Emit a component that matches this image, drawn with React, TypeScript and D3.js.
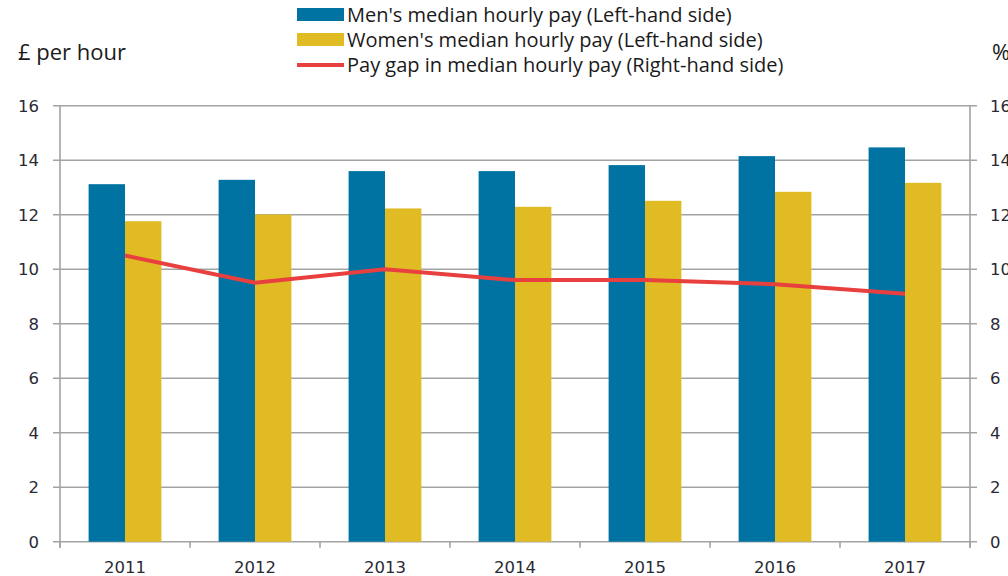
import { useRef, useEffect } from 'react';
import * as d3 from 'd3';

const years = ['2011', '2012', '2013', '2014', '2015', '2016', '2017'];
const menPay = [13.12, 13.28, 13.6, 13.6, 13.82, 14.15, 14.47];
const womenPay = [11.76, 12.01, 12.23, 12.29, 12.51, 12.84, 13.17];
const payGap = [10.5, 9.5, 10.0, 9.6, 9.6, 9.45, 9.1];
const yTicks = [0, 2, 4, 6, 8, 10, 12, 14, 16];

const legendItems = [
    { label: "Men's median hourly pay (Left-hand side)", color: '#0173a2', kind: 'box' },
    { label: "Women's median hourly pay (Left-hand side)", color: '#e1bb24', kind: 'box' },
    { label: 'Pay gap in median hourly pay (Right-hand side)', color: '#e8403f', kind: 'line' },
];

export default function App() {
    const svgRef = useRef<SVGSVGElement>(null);

    useEffect(() => {
        if (!svgRef.current) return;
        const width = 1008;
        const height = 576;
        const left = 60, right = 970, top = 105.7, bottom = 541.7;
        const tickFont = 'DejaVu Sans';
        const legendFont = 'Open Sans';

        const svg = d3.select(svgRef.current);
        svg.selectAll('*').remove();
        svg.attr('width', width).attr('height', height);

        const x = d3.scaleBand().domain(years).range([left, right]).padding(0);
        const xInner = d3.scaleBand()
            .domain(['men', 'women'])
            .range([x.bandwidth() * 0.22, x.bandwidth() * 0.78])
            .padding(0);
        const y = d3.scaleLinear().domain([0, 16]).range([bottom, top]);
        const y2 = d3.scaleLinear().domain([0, 16]).range([bottom, top]);

        // Grid lines
        svg.append('g')
            .selectAll('line')
            .data(yTicks)
            .enter()
            .append('line')
            .attr('x1', left - 7)
            .attr('x2', right + 7)
            .attr('y1', d => y(d))
            .attr('y2', d => y(d))
            .attr('stroke', '#a3a3a3')
            .attr('stroke-width', 1.6);

        // Axis lines
        svg.append('line').attr('x1', left).attr('x2', left).attr('y1', top).attr('y2', bottom + 6)
            .attr('stroke', '#a3a3a3').attr('stroke-width', 1.6);
        svg.append('line').attr('x1', right).attr('x2', right).attr('y1', top).attr('y2', bottom + 6)
            .attr('stroke', '#a3a3a3').attr('stroke-width', 1.6);

        // X ticks
        const xTickPos = years.map(yr => x(yr) || 0).concat([right]);
        svg.append('g')
            .selectAll('line')
            .data(xTickPos)
            .enter()
            .append('line')
            .attr('x1', d => d)
            .attr('x2', d => d)
            .attr('y1', bottom)
            .attr('y2', bottom + 6)
            .attr('stroke', '#a3a3a3')
            .attr('stroke-width', 1.6);

        // Bars
        const groups = svg.append('g')
            .selectAll('g')
            .data(years)
            .enter()
            .append('g')
            .attr('transform', d => `translate(${x(d)},0)`);

        groups.append('rect')
            .attr('x', xInner('men') || 0)
            .attr('width', xInner.bandwidth())
            .attr('y', (_d, i) => y(menPay[i]))
            .attr('height', (_d, i) => bottom - y(menPay[i]))
            .attr('fill', '#0173a2');

        groups.append('rect')
            .attr('x', xInner('women') || 0)
            .attr('width', xInner.bandwidth())
            .attr('y', (_d, i) => y(womenPay[i]))
            .attr('height', (_d, i) => bottom - y(womenPay[i]))
            .attr('fill', '#e1bb24');

        // Pay gap line
        const line = d3.line<number>()
            .x((_d, i) => (x(years[i]) || 0) + x.bandwidth() / 2)
            .y(d => y2(d));
        svg.append('path')
            .datum(payGap)
            .attr('d', line)
            .attr('fill', 'none')
            .attr('stroke', '#e8403f')
            .attr('stroke-width', 4);

        // Y labels
        svg.append('g')
            .selectAll('text')
            .data(yTicks)
            .enter()
            .append('text')
            .attr('x', 39)
            .attr('y', d => y(d))
            .attr('dy', '0.36em')
            .attr('text-anchor', 'end')
            .attr('fill', '#2a2a35')
            .attr('font-family', tickFont)
            .attr('font-size', 16.5)
            .text(d => d);

        svg.append('g')
            .selectAll('text')
            .data(yTicks)
            .enter()
            .append('text')
            .attr('x', 990)
            .attr('y', d => y2(d))
            .attr('dy', '0.36em')
            .attr('text-anchor', 'start')
            .attr('fill', '#2a2a35')
            .attr('font-family', tickFont)
            .attr('font-size', 16.5)
            .text(d => d);

        // X labels
        svg.append('g')
            .selectAll('text')
            .data(years)
            .enter()
            .append('text')
            .attr('x', d => (x(d) || 0) + x.bandwidth() / 2)
            .attr('y', 567)
            .attr('dy', '0.36em')
            .attr('text-anchor', 'middle')
            .attr('fill', '#2a2a35')
            .attr('font-family', tickFont)
            .attr('font-size', 16.5)
            .text(d => d);

        // Axis titles
        svg.append('text')
            .attr('x', 18).attr('y', 52).attr('dy', '0.36em')
            .attr('fill', '#1a1a1a')
            .attr('font-family', legendFont)
            .attr('font-size', 22)
            .text('£ per hour');
        svg.append('text')
            .attr('x', 992).attr('y', 52).attr('dy', '0.36em')
            .attr('fill', '#1a1a1a')
            .attr('font-family', legendFont)
            .attr('font-size', 22)
            .text('%');

        // Legend
        const legend = svg.append('g')
            .selectAll('g')
            .data(legendItems)
            .enter()
            .append('g')
            .attr('transform', (_d, i) => `translate(297,${15 + i * 25})`);

        legend.filter(d => d.kind === 'box')
            .append('rect')
            .attr('x', 0).attr('y', -7).attr('width', 47).attr('height', 13)
            .attr('fill', d => d.color);
        legend.filter(d => d.kind === 'line')
            .append('line')
            .attr('x1', 0).attr('x2', 47).attr('y1', 0).attr('y2', 0)
            .attr('stroke', d => d.color)
            .attr('stroke-width', 4);
        legend.append('text')
            .attr('x', 50)
            .attr('y', 0)
            .attr('dy', '0.36em')
            .attr('fill', '#1a1a1a')
            .attr('font-family', legendFont)
            .attr('font-size', 20)
            .text(d => d.label);
    }, []);

    return (
        <svg ref={svgRef} style={{ position: 'absolute', left: 0, top: 0, background: '#fff' }}></svg>
    );
}
